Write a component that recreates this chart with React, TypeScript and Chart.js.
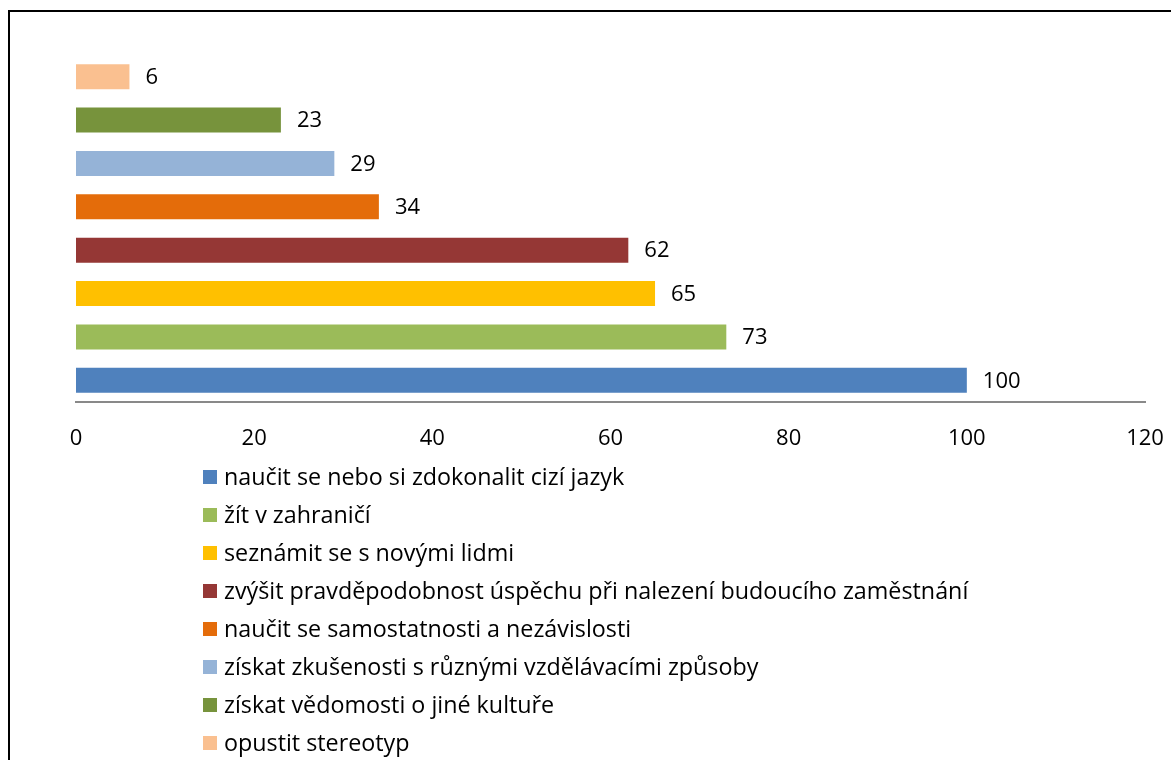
import React, { useEffect, useRef } from "react";
import { Chart, registerables } from "chart.js";

Chart.register(...registerables);

// Legend order (top to bottom in legend); first item is the bottom bar.
const categories = [
  "naučit se nebo si zdokonalit cizí jazyk",
  "žít v zahraničí",
  "seznámit se s novými lidmi",
  "zvýšit pravděpodobnost úspěchu při nalezení budoucího zaměstnání",
  "naučit se samostatnosti a nezávislosti",
  "získat zkušenosti s různými vzdělávacími způsoby",
  "získat vědomosti o jiné kultuře",
  "opustit stereotyp",
];
const values = [100, 73, 65, 62, 34, 29, 23, 6];
const colors = [
  "#4F81BD",
  "#9BBB59",
  "#FFC000",
  "#953735",
  "#E46C0A",
  "#95B3D7",
  "#77933C",
  "#FAC090",
];
const xTicks = [0, 20, 40, 60, 80, 100, 120];

const W = 1171;
const H = 760;
const FONT = "'Open Sans'";
const FS = 22;
const LEGEND_FS = 23.3;
const TICK_PAD = 24;
const AXIS_H = 50;
const PLOT_TOP = 55;
const PLOT_BOTTOM = 402;
const PLOT_LEFT = 76;
const PLOT_RIGHT = 1145;

export default function App() {
  const ref = useRef<HTMLCanvasElement | null>(null);

  useEffect(() => {
    const canvas = ref.current;
    if (!canvas) return;

    // Chart.js places dataset 0 at the top of the group, so reverse.
    const order = categories.map((_, i) => i).reverse();
    const datasets = order.map((i) => ({
      label: categories[i],
      data: [values[i]],
      backgroundColor: colors[i],
      borderWidth: 0,
      categoryPercentage: 1,
      barPercentage: 0.576,
    }));

    const frame = {
      id: "frame",
      afterDraw(chart: any) {
        const ctx = chart.ctx;
        ctx.save();
        ctx.strokeStyle = "#000";
        ctx.lineWidth = 2;
        ctx.beginPath();
        ctx.moveTo(9, H);
        ctx.lineTo(9, 11);
        ctx.lineTo(W, 11);
        ctx.stroke();
        ctx.restore();
      },
    };

    const valueLabels = {
      id: "valueLabels",
      afterDatasetsDraw(chart: any) {
        const ctx = chart.ctx;
        ctx.save();
        ctx.font = `${FS}px ${FONT}`;
        ctx.fillStyle = "#000";
        ctx.textAlign = "left";
        ctx.textBaseline = "middle";
        chart.data.datasets.forEach((ds: any, di: number) => {
          const meta = chart.getDatasetMeta(di);
          meta.data.forEach((el: any, j: number) => {
            ctx.fillText(String(ds.data[j]), el.x + 16, el.y + 1);
          });
        });
        ctx.restore();
      },
    };

    const customLegend = {
      id: "customLegend",
      afterDraw(chart: any) {
        const ctx = chart.ctx;
        const ds = chart.data.datasets.slice().reverse();
        ctx.save();
        ctx.font = `${LEGEND_FS}px ${FONT}`;
        ctx.textAlign = "left";
        ctx.textBaseline = "alphabetic";
        ds.forEach((d: any, i: number) => {
          const top = 470 + i * 38;
          ctx.fillStyle = d.backgroundColor;
          ctx.fillRect(203, top, 14, 14);
          ctx.fillStyle = "#000";
          ctx.fillText(d.label, 224, top + 15);
        });
        ctx.restore();
      },
    };

    const chart = new Chart(canvas, {
      type: "bar",
      data: { labels: [""], datasets },
      options: {
        indexAxis: "y",
        responsive: false,
        animation: false,
        devicePixelRatio: 1,
        layout: {
          padding: {
            left: PLOT_LEFT,
            right: W - PLOT_RIGHT,
            top: PLOT_TOP,
            bottom: H - PLOT_BOTTOM - AXIS_H,
          },
        },
        plugins: {
          legend: { display: false },
          tooltip: { enabled: false },
        },
        scales: {
          y: { display: false },
          x: {
            min: 0,
            max: 120,
            afterBuildTicks(scale: any) {
              scale.ticks = xTicks.map((v) => ({ value: v }));
            },
            afterFit(scale: any) {
              scale.height = AXIS_H;
              scale.paddingLeft = 0;
              scale.paddingRight = 0;
            },
            grid: { display: false, drawTicks: false, tickLength: 0 },
            border: { display: true, color: "#898989", width: 2 },
            ticks: {
              padding: TICK_PAD,
              color: "#000",
              font: { family: FONT, size: FS },
              maxRotation: 0,
            },
          },
        },
      },
      plugins: [frame, valueLabels, customLegend],
    });

    return () => chart.destroy();
  }, []);

  return (
    <canvas
      ref={ref}
      width={W}
      height={H}
      style={{ position: "fixed", left: 0, top: 0, width: W, height: H }}
    />
  );
}
